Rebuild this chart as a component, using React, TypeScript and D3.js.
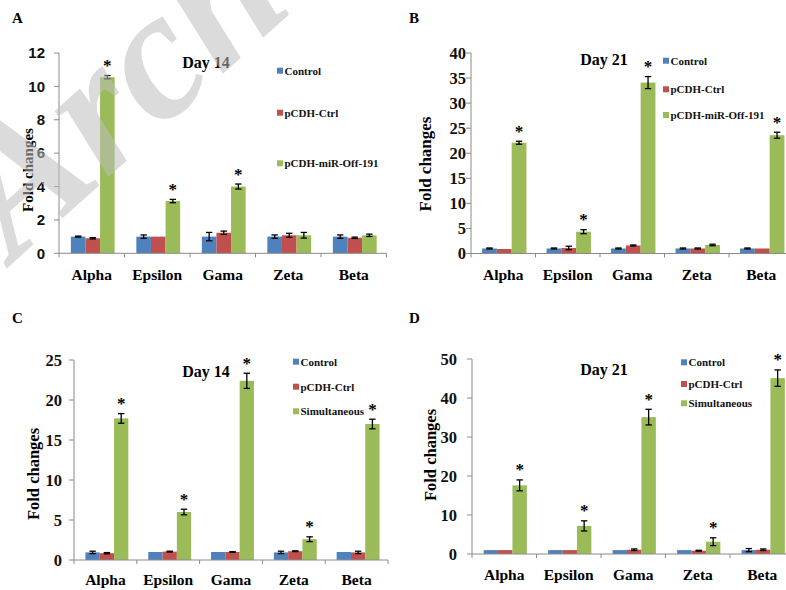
import React from 'react';
import * as d3 from 'd3';

// Genes on the x axis (same order in every panel)
const categories = ['Alpha', 'Epsilon', 'Gama', 'Zeta', 'Beta'];

// Series names
const seriesMiR = ['Control', 'pCDH-Ctrl', 'pCDH-miR-Off-191'];
const seriesSim = ['Control', 'pCDH-Ctrl', 'Simultaneous'];

// Panel A: miR-Off-191, day 14
const aControl = [1.0, 1.0, 1.0, 1.0, 1.0];
const aControlErr = [0.03, 0.1, 0.25, 0.1, 0.1];
const aCtrl = [0.9, 1.0, 1.23, 1.08, 0.93];
const aCtrlErr = [0.04, 0, 0.1, 0.12, 0.04];
const aMiR = [10.55, 3.13, 4.0, 1.08, 1.08];
const aMiRErr = [0.1, 0.1, 0.15, 0.17, 0.07];
const aSignificant = [true, true, true, false, false];
const aTicks = [0, 2, 4, 6, 8, 10, 12];

// Panel B: miR-Off-191, day 21
const bControl = [1.0, 1.0, 1.0, 1.0, 1.0];
const bControlErr = [0.1, 0.1, 0.1, 0.1, 0.1];
const bCtrl = [0.9, 1.1, 1.6, 1.0, 1.0];
const bCtrlErr = [0, 0.35, 0.1, 0.1, 0];
const bMiR = [22.1, 4.35, 34.1, 1.7, 23.6];
const bMiRErr = [0.3, 0.4, 1.2, 0.15, 0.6];
const bSignificant = [true, true, true, false, true];
const bTicks = [0, 5, 10, 15, 20, 25, 30, 35, 40];

// Panel C: simultaneous, day 14
const cControl = [0.95, 1.0, 1.0, 0.95, 1.0];
const cControlErr = [0.15, 0, 0, 0.15, 0];
const cCtrl = [0.85, 1.05, 1.0, 1.1, 0.95];
const cCtrlErr = [0.08, 0.05, 0.05, 0.05, 0.15];
const cSim = [17.7, 6.0, 22.4, 2.6, 17.0];
const cSimErr = [0.6, 0.35, 0.95, 0.3, 0.6];
const cSignificant = [true, true, true, true, true];
const cTicks = [0, 5, 10, 15, 20, 25];

// Panel D: simultaneous, day 21
const dControl = [1.0, 1.0, 1.0, 1.0, 1.0];
const dControlErr = [0, 0, 0, 0, 0.4];
const dCtrl = [1.0, 1.0, 1.1, 0.85, 1.1];
const dCtrlErr = [0, 0, 0.2, 0.1, 0.2];
const dSim = [17.6, 7.2, 35.1, 3.15, 45.1];
const dSimErr = [1.4, 1.3, 2.0, 1.0, 2.1];
const dSignificant = [true, true, true, true, true];
const dTicks = [0, 10, 20, 30, 40, 50];

const COLORS = ['#4F81BD', '#C0504D', '#9BBB59'];
const SERIF = "'Liberation Serif', 'Times New Roman', serif";
const SANS = "'Liberation Sans', Arial, sans-serif";
const AXIS = '#8a8a8a';

type PanelSpec = {
  letter: string;
  day: string;
  names: string[];
  values: number[][];
  errors: number[][];
  significant: boolean[];
  ticks: number[];
  layout: {
    letterX: number; letterY: number;
    x0: number; band: number; barW: number; shift: number;
    y0: number; yTop: number;
    tickFont: string; tickSize: number; tickGap: number;
    labelX: number; labelY: number; labelSize: number;
    catY: number;
    dayX: number; dayY: number;
    legX: number; legY: number[];
  };
};

const panels: PanelSpec[] = [
  {
    letter: 'A', day: 'Day 14', names: seriesMiR,
    values: [aControl, aCtrl, aMiR], errors: [aControlErr, aCtrlErr, aMiRErr],
    significant: aSignificant, ticks: aTicks,
    layout: {
      letterX: 12, letterY: 23, x0: 59, band: 65.5, barW: 14.6, shift: 1,
      y0: 253.3, yTop: 53, tickFont: SANS, tickSize: 15, tickGap: 14,
      labelX: 28, labelY: 170, labelSize: 15, catY: 280,
      dayX: 206, dayY: 68, legX: 277, legY: [70.7, 112.7, 163.3],
    },
  },
  {
    letter: 'B', day: 'Day 21', names: seriesMiR,
    values: [bControl, bCtrl, bMiR], errors: [bControlErr, bCtrlErr, bMiRErr],
    significant: bSignificant, ticks: bTicks,
    layout: {
      letterX: 409, letterY: 23, x0: 471, band: 64.5, barW: 14.8, shift: 1,
      y0: 253.5, yTop: 53, tickFont: SERIF, tickSize: 16.5, tickGap: 5,
      labelX: 425.5, labelY: 164, labelSize: 17, catY: 280,
      dayX: 604, dayY: 65, legX: 663, legY: [60.7, 89.3, 115],
    },
  },
  {
    letter: 'C', day: 'Day 14', names: seriesSim,
    values: [cControl, cCtrl, cSim], errors: [cControlErr, cCtrlErr, cSimErr],
    significant: cSignificant, ticks: cTicks,
    layout: {
      letterX: 12, letterY: 323, x0: 74, band: 62.8, barW: 14.3, shift: 1.5,
      y0: 560, yTop: 360, tickFont: SERIF, tickSize: 16.5, tickGap: 12,
      labelX: 33, labelY: 474, labelSize: 16.5, catY: 585,
      dayX: 206, dayY: 376.5, legX: 293, legY: [361.7, 386.7, 411.3],
    },
  },
  {
    letter: 'D', day: 'Day 21', names: seriesSim,
    values: [dControl, dCtrl, dSim], errors: [dControlErr, dCtrlErr, dSimErr],
    significant: dSignificant, ticks: dTicks,
    layout: {
      letterX: 409, letterY: 323, x0: 472, band: 64.5, barW: 14.4, shift: 1,
      y0: 554, yTop: 359, tickFont: SERIF, tickSize: 16.5, tickGap: 15,
      labelX: 430, labelY: 455, labelSize: 16.5, catY: 580,
      dayX: 604, dayY: 375, legX: 681, legY: [362.3, 384, 403.3],
    },
  },
];

function Panel({ spec }: { spec: PanelSpec }) {
  const L = spec.layout;
  const maxTick = spec.ticks[spec.ticks.length - 1];
  const x = d3
    .scaleBand<string>()
    .domain(categories)
    .range([L.x0, L.x0 + L.band * categories.length])
    .padding(0);
  const groupW = L.barW * spec.names.length;
  const inner = d3
    .scaleBand<string>()
    .domain(spec.names)
    .range([(L.band - groupW) / 2 + L.shift, (L.band - groupW) / 2 + L.shift + groupW]);
  const y = d3.scaleLinear().domain([0, maxTick]).range([L.y0, L.yTop]);
  const cap = 3.2;

  return (
    <g>
      <text x={L.letterX} y={L.letterY} fontFamily={SERIF} fontWeight="bold" fontSize={15}>
        {spec.letter}
      </text>

      {/* y axis */}
      <line x1={L.x0} x2={L.x0} y1={y(maxTick)} y2={L.y0} stroke={AXIS} strokeWidth={1} />
      {spec.ticks.map((t) => (
        <g key={t}>
          <line x1={L.x0 - 5} x2={L.x0} y1={y(t)} y2={y(t)} stroke={AXIS} strokeWidth={1} />
          <text
            x={L.x0 - L.tickGap}
            y={y(t)}
            dy="0.35em"
            textAnchor="end"
            fontFamily={L.tickFont}
            fontWeight="bold"
            fontSize={L.tickSize}
            fill="#111"
          >
            {t}
          </text>
        </g>
      ))}
      <text
        transform={`translate(${L.labelX},${L.labelY}) rotate(-90)`}
        textAnchor="middle"
        dy="0.35em"
        fontFamily={SERIF}
        fontWeight="bold"
        fontSize={L.labelSize}
      >
        Fold changes
      </text>

      {/* bars */}
      {spec.values.map((vals, si) =>
        vals.map((v, ci) => {
          const bx = (x(categories[ci]) as number) + (inner(spec.names[si]) as number);
          return (
            <rect
              key={`b${si}-${ci}`}
              x={bx}
              y={y(v)}
              width={inner.bandwidth()}
              height={L.y0 - y(v)}
              fill={COLORS[si]}
            />
          );
        })
      )}

      {/* x axis */}
      <line x1={L.x0} x2={L.x0 + L.band * categories.length} y1={L.y0} y2={L.y0} stroke={AXIS} strokeWidth={1} />
      {d3.range(categories.length + 1).map((i) => (
        <line
          key={`xt${i}`}
          x1={L.x0 + i * L.band}
          x2={L.x0 + i * L.band}
          y1={L.y0}
          y2={L.y0 + 4}
          stroke={AXIS}
          strokeWidth={1}
        />
      ))}
      {categories.map((c) => (
        <text
          key={c}
          x={(x(c) as number) + L.band / 2}
          y={L.catY}
          textAnchor="middle"
          fontFamily={SERIF}
          fontWeight="bold"
          fontSize={15.5}
        >
          {c}
        </text>
      ))}

      {/* error bars */}
      {spec.values.map((vals, si) =>
        vals.map((v, ci) => {
          const e = spec.errors[si][ci];
          if (!e) return null;
          const cx = (x(categories[ci]) as number) + (inner(spec.names[si]) as number) + inner.bandwidth() / 2;
          const top = y(v + e);
          const bot = y(v - e);
          return (
            <g key={`e${si}-${ci}`} stroke="#000" strokeWidth={1.3}>
              <line x1={cx} x2={cx} y1={top} y2={bot} />
              <line x1={cx - cap} x2={cx + cap} y1={top} y2={top} />
              <line x1={cx - cap} x2={cx + cap} y1={bot} y2={bot} />
            </g>
          );
        })
      )}

      {/* significance marks on the treated series */}
      {spec.significant.map((sig, ci) => {
        if (!sig) return null;
        const si = spec.names.length - 1;
        const v = spec.values[si][ci];
        const e = spec.errors[si][ci];
        const cx = (x(categories[ci]) as number) + (inner(spec.names[si]) as number) + inner.bandwidth() / 2;
        return (
          <text
            key={`s${ci}`}
            x={cx}
            y={y(v + e) - 4.5}
            textAnchor="middle"
            fontFamily={SERIF}
            fontWeight="bold"
            fontSize={17}
          >
            *
          </text>
        );
      })}

      <text x={L.dayX} y={L.dayY} textAnchor="middle" fontFamily={SERIF} fontWeight="bold" fontSize={16}>
        {spec.day}
      </text>

      {/* legend */}
      {spec.names.map((n, i) => (
        <g key={n}>
          <rect x={L.legX} y={L.legY[i] - 3} width={6} height={6} fill={COLORS[i]} />
          <text
            x={L.legX + 7.5}
            y={L.legY[i]}
            dy="0.35em"
            fontFamily={SERIF}
            fontWeight="bold"
            fontSize={11}
            fill="#111"
          >
            {n}
          </text>
        </g>
      ))}
    </g>
  );
}

export default function App() {
  return (
    <svg
      width={786}
      height={590}
      viewBox="0 0 786 590"
      style={{ position: 'absolute', left: 0, top: 0, background: '#fff' }}
    >
      <rect width={786} height={590} fill="#fff" />
      {panels.map((p) => (
        <Panel key={p.letter} spec={p} />
      ))}
      {/* repository watermark */}
      <text
        transform="translate(14,262) rotate(-42)"
        fontFamily={SERIF}
        fontStyle="italic"
        fontWeight="bold"
        fontSize={185}
        fill="#bdbdbd"
        fillOpacity={0.55}
      >
        Arch
      </text>
    </svg>
  );
}
